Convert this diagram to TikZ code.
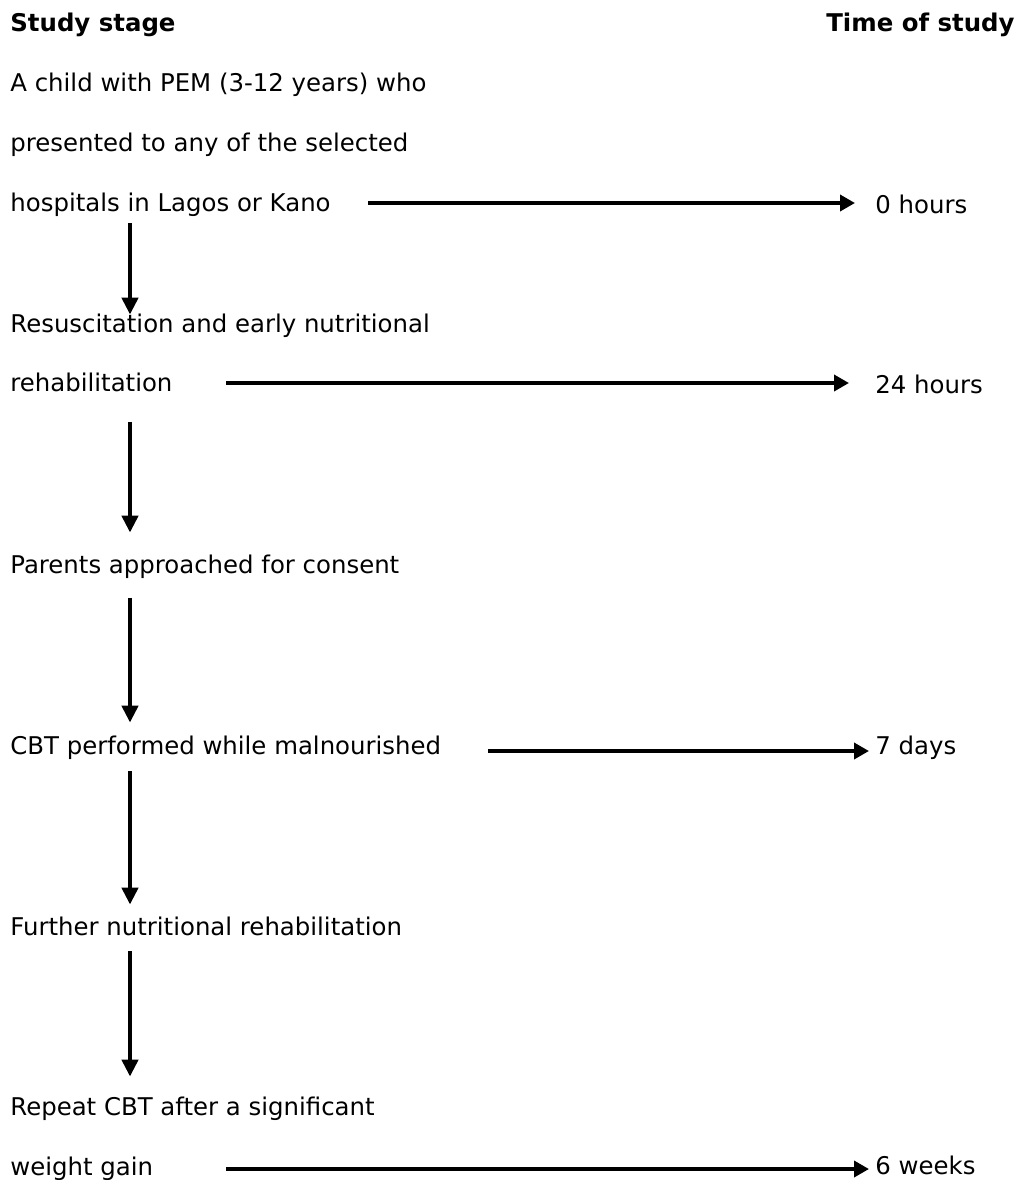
\documentclass[tikz,border=0pt]{standalone}
\usepackage{fontspec}
\setmainfont{DejaVu Sans}
\usepackage{tikz}
\usetikzlibrary{arrows.meta}

\tikzset{
  stage/.style={anchor=base west, inner sep=0pt, text height=9pt, text depth=2.8pt, font=\fontsize{12.2pt}{14.6pt}\selectfont},
  timelbl/.style={stage},
  down/.style={line width=2.4pt, -{Triangle[width=8pt,length=8.5pt]}},
  across/.style={line width=1.8pt, -{Triangle[width=8pt,length=7.5pt]}}
}

\begin{document}
\begin{tikzpicture}[x=0.5pt,y=-0.5pt]
\useasboundingbox (0,0) rectangle (1023,1180);

\node[stage] (head) at (10,31) {\textbf{Study stage}};
\node[timelbl,anchor=base east] (headt) at (1015,31) {\textbf{Time of study}};

\node[stage] (child1) at (10,91) {A child with PEM (3-12 years) who};
\node[stage] (child2) at (10,151) {presented to any of the selected};
\node[stage] (child3) at (10,211) {hospitals in Lagos or Kano};
\node[stage] (resus1) at (10,332) {Resuscitation and early nutritional};
\node[stage] (resus2) at (10,391) {rehabilitation};
\node[stage] (consent) at (10,573) {Parents approached for consent};
\node[stage] (cbt) at (10,754) {CBT performed while malnourished};
\node[stage] (further) at (10,935) {Further nutritional rehabilitation};
\node[stage] (repeat1) at (10,1115) {Repeat CBT after a significant};
\node[stage] (repeat2) at (10,1175) {weight gain};

\node[timelbl] (t0) at (875,213) {0 hours};
\node[timelbl] (t24) at (875,393) {24 hours};
\node[timelbl] (t7) at (875,754) {7 days};
\node[timelbl] (t6) at (875,1174) {6 weeks};

\coordinate (col) at (130,0);
\draw[down, shorten <=3.2pt, shorten >=-0.5pt] (child3.south -| col) -- (resus1.north -| col);
\draw[down, shorten <=12.7pt, shorten >=11pt] (resus2.south -| col) -- (consent.north -| col);
\draw[down, shorten <=9.7pt, shorten >=6.5pt] (consent.south -| col) -- (cbt.north -| col);
\draw[down, shorten <=5.7pt, shorten >=6pt] (cbt.south -| col) -- (further.north -| col);
\draw[down, shorten <=5.2pt, shorten >=10pt] (further.south -| col) -- (repeat1.north -| col);

\coordinate (a0) at (368,203);
\coordinate (b0) at (226,383);
\coordinate (c0) at (488,751);
\coordinate (d0) at (226,1169);
\draw[across, shorten >=10pt] (a0) -- (a0 -| t0.west);
\draw[across, shorten >=13pt] (b0) -- (b0 -| t24.west);
\draw[across, shorten >=3pt] (c0) -- (c0 -| t7.west);
\draw[across, shorten >=3pt] (d0) -- (d0 -| t6.west);

\end{tikzpicture}
\end{document}
